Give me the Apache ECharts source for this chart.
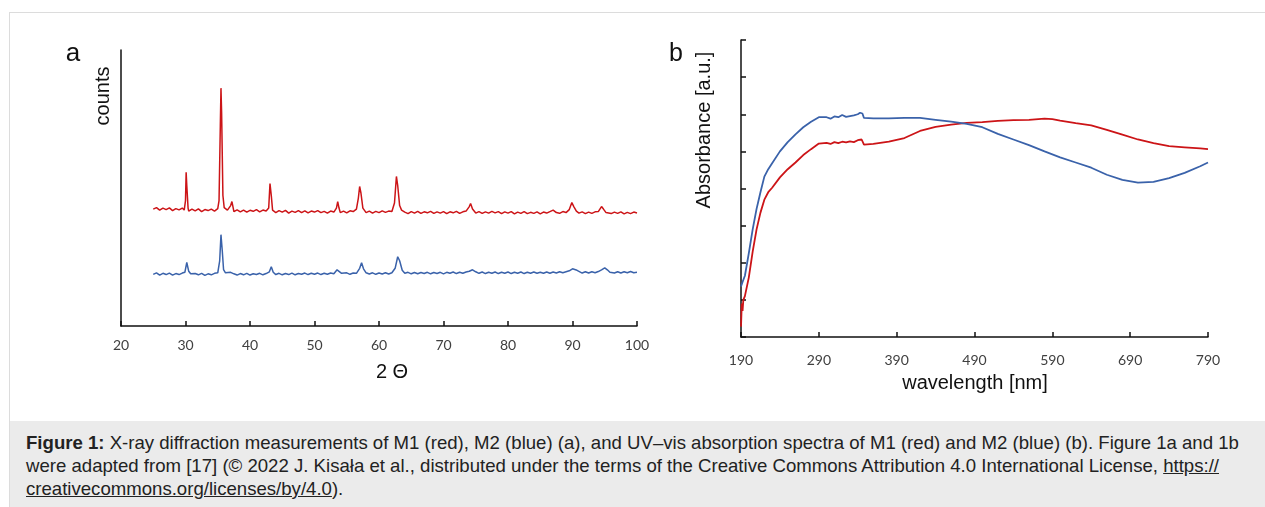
<!DOCTYPE html>
<html lang="en">
<head>
<meta charset="UTF-8">
<title>Figure 1</title>
<script src="https://cdn.jsdelivr.net/npm/echarts@6/dist/echarts.min.js"></script>
<style>
    html, body { margin: 0; padding: 0; background: #fff; width: 1265px; height: 507px; overflow: hidden; }
    #frame { position: absolute; left: 9px; top: 12px; width: 1262px; height: 500px;
             border-left: 1px solid #dcdcdc; border-top: 1px solid #dcdcdc; }
    #main { position: absolute; left: 0; top: 0; width: 1265px; height: 420px; }
    #caption { position: absolute; left: 10px; top: 421px; width: 1255px; height: 86px; background: #ebebeb;
               font-family: 'Liberation Sans', Arial, sans-serif; font-size: 18.6px; line-height: 23px; color: #222; }
    #caption .txt { position: absolute; left: 16px; top: 10px; white-space: nowrap; }
</style>
</head>
<body>
<div id="frame"></div>
<div id="main"></div>
<div id="caption"><div class="txt">
<b>Figure 1:</b> X-ray diffraction measurements of M1 (red), M2 (blue) (a), and UV–vis absorption spectra of M1 (red) and M2 (blue) (b). Figure 1a and 1b<br>
were adapted from [17] (© 2022 J. Kisała et al., distributed under the terms of the Creative Commons Attribution 4.0 International License, <u>https://</u><br>
<u>creativecommons.org/licenses/by/4.0</u>).
</div></div>
<script type="text/javascript">
    // (a) XRD patterns, [2theta, counts] (arbitrary counts)
    var xrdM1 = [
        [25,466],[25.5,472],[26,462],[26.5,470],[27,464],[27.5,471],[28,460],[28.5,468],[29,463],[29.5,470],
        [29.8,462],[30.0,500],[30.1,613],[30.2,560],[30.4,470],[30.5,458],[31,466],[31.5,459],[32,467],[32.5,456],
        [33,464],[33.5,460],[34,466],[34.5,458],[35,468],[35.2,500],[35.4,800],[35.5,948],[35.6,850],[35.8,520],
        [36,472],[36.5,462],[37,480],[37.2,496],[37.4,470],[37.5,456],[38,463],[38.5,455],[39,462],[39.5,454],
        [40,461],[40.5,457],[41,464],[41.5,455],[42,462],[42.5,458],[42.9,470],[43.1,568],[43.3,520],[43.5,462],
        [44,452],[44.5,460],[45,454],[45.5,461],[46,450],[46.5,458],[47,453],[47.5,460],[48,452],[48.5,459],
        [49,451],[49.5,458],[50,454],[50.5,460],[51,452],[51.5,457],[52,450],[52.5,458],[53,454],[53.4,470],
        [53.6,496],[53.8,470],[54,452],[54.5,458],[55,451],[55.5,459],[56,456],[56.5,466],[56.8,510],[57.0,556],
        [57.2,530],[57.5,470],[58,452],[58.5,458],[59,450],[59.5,457],[60,452],[60.5,459],[61,453],[61.5,458],
        [62,456],[62.4,490],[62.7,596],[62.9,560],[63.2,480],[63.5,462],[64,454],[64.5,448],[65,456],[65.5,450],
        [66,457],[66.5,449],[67,455],[67.5,451],[68,457],[68.5,449],[69,455],[69.5,450],[70,456],[70.5,448],
        [71,455],[71.5,451],[72,457],[72.5,449],[73,455],[73.5,458],[74,476],[74.2,488],[74.5,466],[75,450],
        [75.5,456],[76,449],[76.5,455],[77,450],[77.5,457],[78,451],[78.5,456],[79,448],[79.5,455],[80,450],
        [80.5,456],[81,447],[81.5,454],[82,449],[82.5,456],[83,448],[83.5,453],[84,449],[84.5,455],[85,447],
        [85.5,454],[86,450],[86.5,456],[87,462],[87.5,452],[88,449],[88.5,456],[89,452],[89.5,464],[89.9,492],
        [90.2,476],[90.6,458],[91,450],[91.5,455],[92,448],[92.5,454],[93,449],[93.5,455],[94,456],[94.5,476],
        [94.8,466],[95.2,452],[95.5,456],[96,448],[96.5,454],[97,449],[97.5,455],[98,447],[98.5,453],[99,448],
        [99.5,454],[100,450]
    ];
    var xrdM2 = [
        [25,206],[25.5,212],[26,203],[26.5,210],[27,205],[27.5,211],[28,203],[28.5,209],[29,205],[29.5,211],
        [29.9,214],[30.2,253],[30.5,218],[30.8,208],[31,203],[31.5,209],[32,204],[32.5,210],[33,202],[33.5,208],
        [34,204],[34.5,210],[35,212],[35.3,260],[35.5,364],[35.7,300],[35.9,225],[36.2,212],[36.5,206],[37,214],
        [37.2,220],[37.5,208],[38,203],[38.5,209],[39,204],[39.5,210],[40,203],[40.5,208],[41,205],[41.5,210],
        [42,204],[42.5,209],[43,216],[43.3,236],[43.6,214],[44,205],[44.5,210],[45,204],[45.5,209],[46,205],
        [46.5,211],[47,204],[47.5,209],[48,206],[48.5,211],[49,205],[49.5,210],[50,206],[50.5,211],[51,205],
        [51.5,210],[52,206],[52.5,211],[53,208],[53.5,224],[53.8,220],[54.2,210],[54.5,207],[55,212],[55.5,206],
        [56,211],[56.5,210],[57,230],[57.3,252],[57.6,228],[58,212],[58.5,207],[59,212],[59.5,206],[60,211],
        [60.5,207],[61,212],[61.5,207],[62,212],[62.5,230],[62.9,276],[63.2,260],[63.6,222],[64,210],[64.5,214],
        [65,208],[65.5,213],[66,208],[66.5,213],[67,209],[67.5,214],[68,208],[68.5,213],[69,209],[69.5,214],
        [70,208],[70.5,214],[71,210],[71.5,215],[72,209],[72.5,214],[73,210],[73.5,215],[74,218],[74.5,224],
        [75,216],[75.5,210],[76,215],[76.5,209],[77,214],[77.5,210],[78,215],[78.5,209],[79,214],[79.5,210],
        [80,215],[80.5,209],[81,214],[81.5,210],[82,215],[82.5,209],[83,214],[83.5,210],[84,215],[84.5,210],
        [85,214],[85.5,210],[86,215],[86.5,210],[87,215],[87.5,211],[88,216],[88.5,212],[89,216],[89.5,220],
        [90,228],[90.3,232],[90.7,222],[91,216],[91.5,211],[92,216],[92.5,211],[93,216],[93.5,212],[94,217],
        [94.5,224],[95,232],[95.4,224],[95.8,214],[96,217],[96.5,211],[97,216],[97.5,211],[98,216],[98.5,212],
        [99,217],[99.5,212],[100,214]
    ];

    // (b) UV-vis spectra
    var waveM1 = [190,191,192,193,195,197,200,205,210,215,220,225,230,240,250,260,270,280,290,300,305,310,315,320,325,330,335,340,345,348,350,360,380,400,420,440,460,480,500,520,540,560,580,590,600,620,640,660,680,700,720,740,760,780,790];
    var absM1 = [0.028,0.09,0.07,0.10,0.11,0.115,0.16,0.23,0.29,0.335,0.37,0.39,0.402,0.43,0.452,0.47,0.49,0.506,0.521,0.523,0.520,0.525,0.522,0.526,0.524,0.527,0.525,0.530,0.532,0.518,0.517,0.520,0.526,0.536,0.555,0.566,0.572,0.577,0.579,0.582,0.584,0.585,0.588,0.587,0.583,0.576,0.570,0.558,0.545,0.532,0.522,0.514,0.511,0.508,0.506];
    var waveM2 = [190,192,195,200,205,210,215,220,225,230,240,250,260,270,280,290,300,305,310,315,320,325,330,335,340,343,346,348,350,360,380,400,420,440,460,480,500,520,540,560,580,600,620,640,660,680,700,720,740,760,780,790];
    var absM2 = [0.136,0.148,0.165,0.225,0.29,0.345,0.39,0.432,0.452,0.468,0.50,0.525,0.546,0.565,0.58,0.592,0.592,0.588,0.594,0.592,0.598,0.593,0.595,0.597,0.600,0.604,0.602,0.590,0.589,0.589,0.589,0.590,0.590,0.585,0.580,0.574,0.565,0.547,0.532,0.517,0.500,0.484,0.470,0.456,0.437,0.423,0.416,0.418,0.428,0.442,0.460,0.470];

    var RED = '#cc1417';
    var BLUE = '#3a62aa';

    function pairs(xs, ys) {
        var out = [];
        for (var i = 0; i < xs.length; i++) out.push([xs[i], ys[i]]);
        return out;
    }

    var axisLine = { show: true, lineStyle: { color: '#111', width: 1.5 } };
    var tickStyle = { inside: true, length: 5, lineStyle: { color: '#111', width: 1.5 } };

    var myChart = echarts.init(document.getElementById('main'));

    function label(t, x, y, size, rot) {
        return {
            type: 'text', x: x, y: y, rotation: rot || 0,
            style: { text: t, font: size + 'px "Liberation Sans"', fill: '#111',
                     align: 'center', verticalAlign: 'middle', textAlign: 'center', textVerticalAlign: 'middle' }
        };
    }

    var option = {
        animation: false,
        grid: [
            { left: 121, top: 50, width: 516, height: 276 },
            { left: 741, top: 40, width: 467, height: 297 }
        ],
        xAxis: [
            {
                gridIndex: 0, type: 'value', min: 20, max: 100, interval: 10,
                axisLine: axisLine, splitLine: { show: false }, axisTick: tickStyle,
                axisLabel: { color: '#404040', fontFamily: 'Lato', fontSize: 14, margin: 12 }
            },
            {
                gridIndex: 1, type: 'value', min: 190, max: 790, interval: 100,
                axisLine: axisLine, splitLine: { show: false }, axisTick: tickStyle,
                axisLabel: { color: '#404040', fontFamily: 'Lato', fontSize: 14, margin: 16 }
            }
        ],
        yAxis: [
            {
                gridIndex: 0, type: 'value', min: 0, max: 1100,
                axisLine: axisLine, splitLine: { show: false },
                axisTick: { show: false }, axisLabel: { show: false }
            },
            {
                gridIndex: 1, type: 'value', min: 0, max: 0.8, interval: 0.1,
                axisLine: axisLine, splitLine: { show: false }, axisTick: tickStyle,
                axisLabel: { show: false }
            }
        ],
        graphic: [
            label('a', 73, 54, 26),
            label('counts', 103, 96, 20, Math.PI / 2),
            label('2 Θ', 392, 372, 20),
            label('b', 676, 54, 25),
            label('Absorbance [a.u.]', 704, 130, 20, Math.PI / 2),
            label('wavelength [nm]', 975, 383, 20)
        ],
        series: [
            { name: 'M1 XRD', type: 'line', xAxisIndex: 0, yAxisIndex: 0, data: xrdM1, showSymbol: false, lineStyle: { color: RED, width: 1.5 } },
            { name: 'M2 XRD', type: 'line', xAxisIndex: 0, yAxisIndex: 0, data: xrdM2, showSymbol: false, lineStyle: { color: BLUE, width: 1.5 } },
            { name: 'M1 UV', type: 'line', xAxisIndex: 1, yAxisIndex: 1, data: pairs(waveM1, absM1), showSymbol: false, lineStyle: { color: RED, width: 1.8 } },
            { name: 'M2 UV', type: 'line', xAxisIndex: 1, yAxisIndex: 1, data: pairs(waveM2, absM2), showSymbol: false, lineStyle: { color: BLUE, width: 1.8 } }
        ]
    };

    myChart.setOption(option);
</script>
</body>
</html>
